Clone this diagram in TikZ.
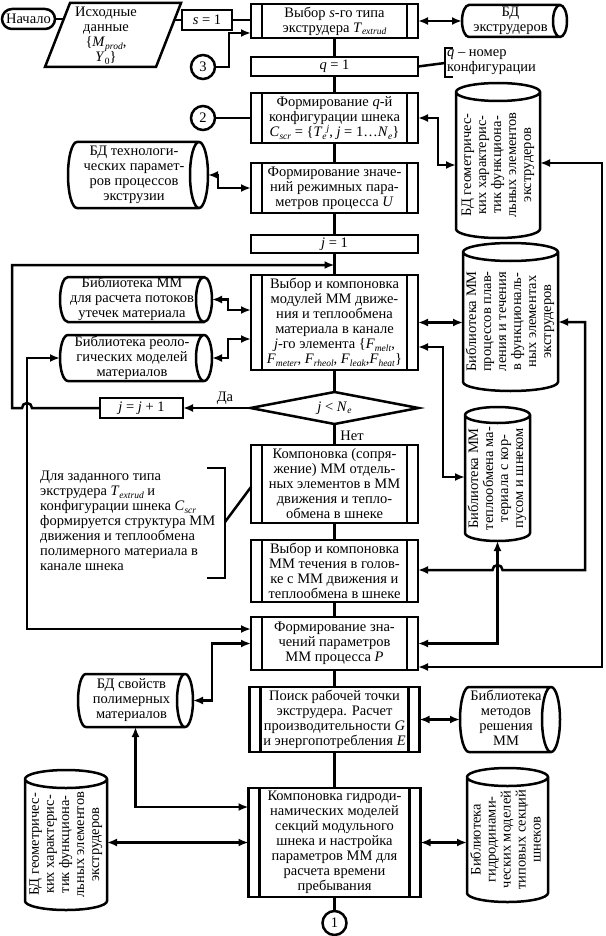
\documentclass[tikz,border=0pt]{standalone}
\usepackage{fontspec}
\setmainfont{Liberation Serif}
\usepackage{graphicx}
\usetikzlibrary{arrows.meta,calc,shapes.geometric}
\newcommand\dfont{\fontsize{14.5}{15}\selectfont}
\newcommand\myit[1]{\textit{#1}}
\newcommand\mysub[1]{\raisebox{-2.6pt}{\fontsize{9.5}{9.5}\selectfont #1}}
\newcommand\mysup[1]{\raisebox{5pt}{\fontsize{9.5}{9.5}\selectfont #1}}
\newcommand\hcylo[2]{\draw[thk] let \p1=(#1.south west), \p2=(#1.north east), \n1={(\y2-\y1)/2} in
 (\x1+#2,\y2) -- (\x2-#2,\y2) arc[start angle=90,end angle=-90,x radius=#2,y radius=\n1] -- (\x1+#2,\y1) arc[start angle=270,end angle=90,x radius=#2,y radius=\n1] -- cycle
 (\x2-#2,\y2) arc[start angle=90,end angle=270,x radius=#2,y radius=\n1];}
\newcommand\vcylo[2]{\draw[thk] let \p1=(#1.south west), \p2=(#1.north east), \n1={(\x2-\x1)/2} in
 (\x1,\y2-#2) -- (\x1,\y1+#2) arc[start angle=180,end angle=360,x radius=\n1,y radius=#2] -- (\x2,\y2-#2) arc[start angle=0,end angle=180,x radius=\n1,y radius=#2] -- cycle
 (\x1,\y2-#2) arc[start angle=180,end angle=360,x radius=\n1,y radius=#2];}
\newcommand\vtext[1]{\rotatebox{90}{\hspace*{-9pt}\begin{tabular}{@{}c@{}}#1\end{tabular}}}
\newcommand\htext[1]{\hspace*{-8pt}\begin{tabular}{@{}c@{}}#1\end{tabular}}
\begin{document}
\begin{tikzpicture}[x=1pt,y=1pt,
 thk/.style={line width=2.5pt},
 arr/.style={thk,-{Latex[length=10pt,width=8pt]}},
 darr/.style={thk,{Latex[length=10pt,width=8pt]}-{Latex[length=10pt,width=8pt]}},
 box/.style={draw,thk,rectangle,minimum width=167pt,inner sep=0pt,outer sep=0pt,align=center,font=\dfont},
 pbox/.style={box,path picture={\draw[line width=2.5pt]
   ([xshift=11pt]path picture bounding box.north west) -- ([xshift=11pt]path picture bounding box.south west)
   ([xshift=-11pt]path picture bounding box.north east) -- ([xshift=-11pt]path picture bounding box.south east);}},
 cyl/.style={inner sep=0pt,outer sep=0pt,align=center,font=\dfont},
 circ/.style={draw,thk,circle,minimum size=24pt,inner sep=0pt,outer sep=0pt,font=\dfont},
 lbl/.style={font=\dfont,inner sep=0pt}
]
\useasboundingbox (0,0) rectangle (605,-936);
\fill[white] (0,0) rectangle (605,-936);

% start, input data
\node[box,rounded corners=10pt,minimum width=53pt,minimum height=20pt] (start) at (28.5,-19) {Начало};
\draw[thk] (70,-3) -- (181,-3) -- (156,-67) -- (45,-67) -- cycle;
\node[lbl,align=center] (data) at (106,-36) {Исходные\\данные\\\{\myit{M}\mysub{\myit{prod}},\\\myit{Y}\mysub{0}\}};
\coordinate (dataL) at (63.5,-19);
\coordinate (dataR) at (174,-20);
\node[box,minimum width=50pt,minimum height=20pt] (s1) at (207,-20) {\myit{s} = 1};

% main column
\node[pbox,minimum height=34pt] (box1) at (334.5,-21) {Выбор \myit{s}-го типа\\экструдера \myit{T}\mysub{\myit{extrud}}};
\node[box,minimum height=19pt] (box2) at (334.5,-66.5) {\myit{q} = 1};
\node[pbox,minimum height=50pt] (box3) at (334.5,-118) {Формирование \myit{q}-й\\конфигурации шнека\\\myit{C}\mysub{\myit{scr}} = \{\myit{T}\mysub{\myit{e}}\mysup{\myit{j}}, \myit{j} = 1…\myit{N}\mysub{\myit{e}}\}};
\node[pbox,minimum height=50pt] (box4) at (334.5,-188) {Формирование значе-\\ний режимных пара-\\метров процесса \myit{U}};
\node[box,minimum height=18pt] (box5) at (334.5,-244) {\myit{j} = 1};
\node[pbox,minimum height=95pt] (box6) at (334.5,-322.5) {Выбор и компоновка\\модулей ММ движе-\\ния и теплообмена\\материала в канале\\\myit{j}-го элемента \{\myit{F}\mysub{\myit{melt}},\\\myit{F}\mysub{\myit{meter}}, \myit{F}\mysub{\myit{rheol}}, \myit{F}\mysub{\myit{leak}},\myit{F}\mysub{\myit{heat}}\}};
\node[draw,thk,diamond,minimum width=168pt,minimum height=32pt,aspect=5,inner sep=0pt,outer sep=0pt,font=\dfont] (dia) at (334.5,-408) {\myit{j} < \myit{N}\mysub{\myit{e}}};
\node[box,minimum width=83pt,minimum height=20pt] (jj) at (141.5,-408) {\myit{j} = \myit{j} + 1};
\node[pbox,minimum height=78pt] (box8) at (334.5,-484) {Компоновка (сопря-\\жение) ММ отдель-\\ных элементов в ММ\\движения и тепло-\\обмена в шнеке};
\node[pbox,minimum height=62pt] (box9) at (334.5,-571) {Выбор и компоновка\\ММ течения в голов-\\ке с ММ движения и\\теплообмена в шнеке};
\node[pbox,minimum height=53pt] (box10) at (334.5,-643.5) {Формирование зна-\\чений параметров\\ММ процесса \myit{P}};
\node[pbox,minimum width=170pt,minimum height=65pt] (box11) at (334.5,-719.5) {Поиск рабочей точки\\экструдера. Расчет\\производительности \myit{G}\\и энергопотребления \myit{E}};
\node[pbox,minimum width=172pt,minimum height=109pt] (box12) at (334.5,-842.5) {Компоновка гидроди-\\намических моделей\\секций модульного\\шнека и настройка\\параметров ММ для\\расчета времени\\пребывания};
\node[circ] (c1) at (334.5,-923) {1};
\node[circ] (c2) at (203,-118) {2};
\node[circ] (c3) at (203,-67) {3};

% horizontal cylinders
\node[cyl,minimum width=105pt,minimum height=32pt] (cylExtr) at (514.5,-21) {\htext{БД\\экструдеров}};
\node[cyl,minimum width=140pt,minimum height=66pt] (cylTech) at (138,-175) {\htext{БД технологи-\\ческих парамет-\\ров процессов\\экструзии}};
\node[cyl,minimum width=152pt,minimum height=45pt] (cylLeak) at (136,-299.5) {\htext{Библиотека ММ\\для расчета потоков\\утечек материала}};
\node[cyl,minimum width=152pt,minimum height=46pt] (cylRheo) at (136,-358) {\htext{Библиотека реоло-\\гических моделей\\материалов}};
\node[cyl,minimum width=115pt,minimum height=53pt] (cylProps) at (135.5,-700.5) {\htext{БД свойств\\полимерных\\материалов}};
\node[cyl,minimum width=100pt,minimum height=65pt] (cylMeth) at (510,-719.5) {\htext{Библиотека\\методов\\решения\\ММ}};
\hcylo{cylExtr}{7pt}
\hcylo{cylTech}{9pt}
\hcylo{cylLeak}{8pt}
\hcylo{cylRheo}{8pt}
\hcylo{cylProps}{8pt}
\hcylo{cylMeth}{9pt}

% vertical cylinders
\node[cyl,minimum width=84pt,minimum height=155pt] (cylGeo1) at (498,-160.5) {\vtext{БД геометричес-\\ких характерис-\\тик функциона-\\льных элементов\\экструдеров}};
\node[cyl,minimum width=95pt,minimum height=148pt] (cylMelt) at (510.5,-317) {\vtext{Библиотека ММ\\процессов плав-\\ления и течения\\в функциональ-\\ных элементах\\экструдеров}};
\node[cyl,minimum width=65pt,minimum height=134pt] (cylHeat) at (497.5,-474) {\vtext{Библиотека ММ\\теплообмена ма-\\териала с кор-\\пусом и шнеком}};
\node[cyl,minimum width=82pt,minimum height=140pt] (cylGeo2) at (66,-840) {\vtext{БД геометричес-\\ких характерис-\\тик функциона-\\льных элементов\\экструдеров}};
\node[cyl,minimum width=81pt,minimum height=134pt] (cylHydro) at (507.5,-835) {\vtext{Библиотека\\гидродинами-\\ческих моделей\\типовых секций\\шнеков}};
\vcylo{cylGeo1}{9pt}
\vcylo{cylMelt}{9pt}
\vcylo{cylHeat}{8pt}
\vcylo{cylGeo2}{9pt}
\vcylo{cylHydro}{9pt}

% annotations
\node[lbl,align=left,anchor=west] (qnote) at (447,-62) {\myit{q} – номер\\конфигурации};
\draw[thk] (453,-48) -- (445,-48) -- (445,-77) -- (453,-77);
\coordinate (qbr) at (445,-63);
\node[lbl,align=left,anchor=west] (note) at (40,-521) {Для заданного типа\\экструдера \myit{T}\mysub{\myit{extrud}} и\\конфигурации шнека \myit{C}\mysub{\myit{scr}}\\формируется структура ММ\\движения и теплообмена\\полимерного материала в\\канале шнека};
\draw[thk] (207,-468) -- (225,-468) -- (225,-578) -- (207,-578);
\coordinate (nbr) at (225,-522);
\node[lbl] (yes) at (225,-398) {Да};
\node[lbl] (no) at (352,-436) {Нет};

% main flow lines
\draw[thk] (start.east) -- (dataL);
\draw[thk] (dataR) -- (s1.west);
\draw[thk] (s1.east) -- (s1.east -| box1.west);
\draw[arr] (c3.east) -- ++(14,0) |- ([yshift=-12pt]box1.west);
\draw[thk] (c2.east) -- (box3.west);
\draw[thk] (box1.south) -- (box2.north) (box2.south) -- (box3.north) (box3.south) -- (box4.north)
  (box4.south) -- (box5.north) (box5.south) -- (box6.north) (box6.south) -- (dia.north)
  (dia.south) -- (box8.north) (box8.south) -- (box9.north) (box9.south) -- (box10.north)
  (box10.south) -- (box11.north) (box11.south) -- (box12.north) (box12.south) -- (c1.north);
\draw[arr] (dia.west) -- (jj.east);
\draw[arr] (jj.west) -- (32,-408) arc[start angle=0,end angle=180,radius=5pt] -- (12,-408) -- (12,-265) -- (334.5,-265);
\draw[thk] (box2.east) -- (qbr);
\draw[thk] (nbr) -- ([yshift=-3pt]box8.west);

% data connectors
\draw[darr] (box1.east) -- (cylExtr.west);
\draw[darr] (cylTech.east) -- ++(10,0) |- (box4.west);
\draw[darr] (box3.east) -- ++(20,0) |- ([yshift=-4.5pt]cylGeo1.west);
\draw[darr] ([yshift=-2.5pt]cylGeo1.east) -- (602,-163) -- (602,-667) -- ([yshift=-23.5pt]box10.east);
\draw[darr] (box6.east) -- (box6.east -| cylMelt.west);
\draw[darr] ([yshift=-5pt]cylMelt.east) -- (585,-322) -- (585,-570) -- (502.5,-570) arc[start angle=0,end angle=180,radius=5pt] -- ([yshift=1pt]box9.east);
\draw[darr] ([yshift=-24.5pt]box6.east) -- (443,-347) -- (443,-477) -- ([yshift=-3pt]cylHeat.west);
\draw[darr] (cylHeat.south) |- (box10.east);
\draw[darr] (cylLeak.east) -- ++(16,0) |- ([yshift=12.5pt]box6.west);
\draw[darr] (cylRheo.east) -- ++(16,0) |- ([yshift=-16.5pt]box6.west);
\draw[darr] (cylRheo.west) -- (27,-358) -- (27,-629) -- ([yshift=14.5pt]box10.west);
\draw[darr] (cylProps.east) -- ++(19,0) |- (box10.west);
\draw[darr] (cylProps.south) |- ([yshift=35.5pt]box12.west);
\draw[darr] (box12.west -| cylGeo2.east) -- (box12.west);
\draw[darr] (box12.east) -- (box12.east -| cylHydro.west);
\draw[darr] (box11.east) -- (cylMeth.west);
\end{tikzpicture}
\end{document}
